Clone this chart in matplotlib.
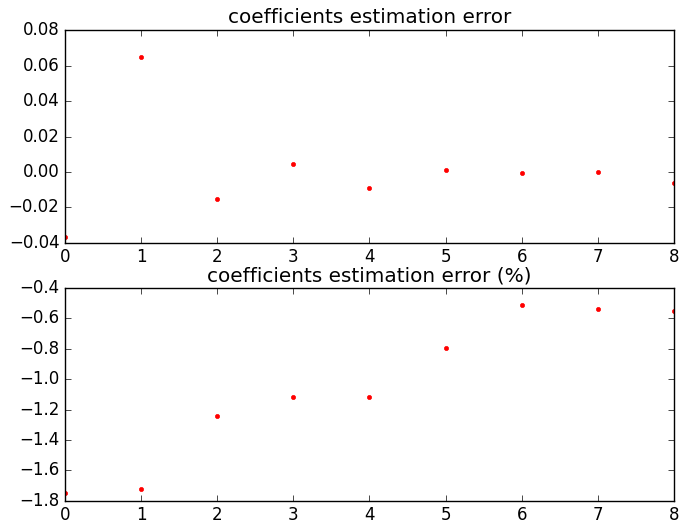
import matplotlib
matplotlib.use("Agg")
import matplotlib.pyplot as plt

plt.style.use('classic')

# -- coefficient index and errors
idx = [0, 1, 2, 3, 4, 5, 6, 7, 8]
err_abs = [-0.037, 0.0648, -0.0155, 0.0043, -0.009, 0.0009, -0.0006, 0.0, -0.006]
err_pct = [-1.752, -1.721, -1.243, -1.120, -1.120, -0.797, -0.514, -0.538, -0.551]

fig = plt.figure(figsize=(6.8, 5.21), dpi=100, facecolor='white')

ax1 = fig.add_axes([0.0956, 0.534, 0.8955, 0.408])
ax1.plot(idx, err_abs, 'r.')
ax1.set_xlim(0, 8)
ax1.set_ylim(-0.04, 0.08)
ax1.set_title('coefficients estimation error')

ax2 = fig.add_axes([0.0956, 0.039, 0.8955, 0.408])
ax2.plot(idx, err_pct, 'r.')
ax2.set_xlim(0, 8)
ax2.set_ylim(-1.8, -0.4)
ax2.set_title('coefficients estimation error (%)')

fig.savefig('out.png', dpi=100, facecolor='white')
